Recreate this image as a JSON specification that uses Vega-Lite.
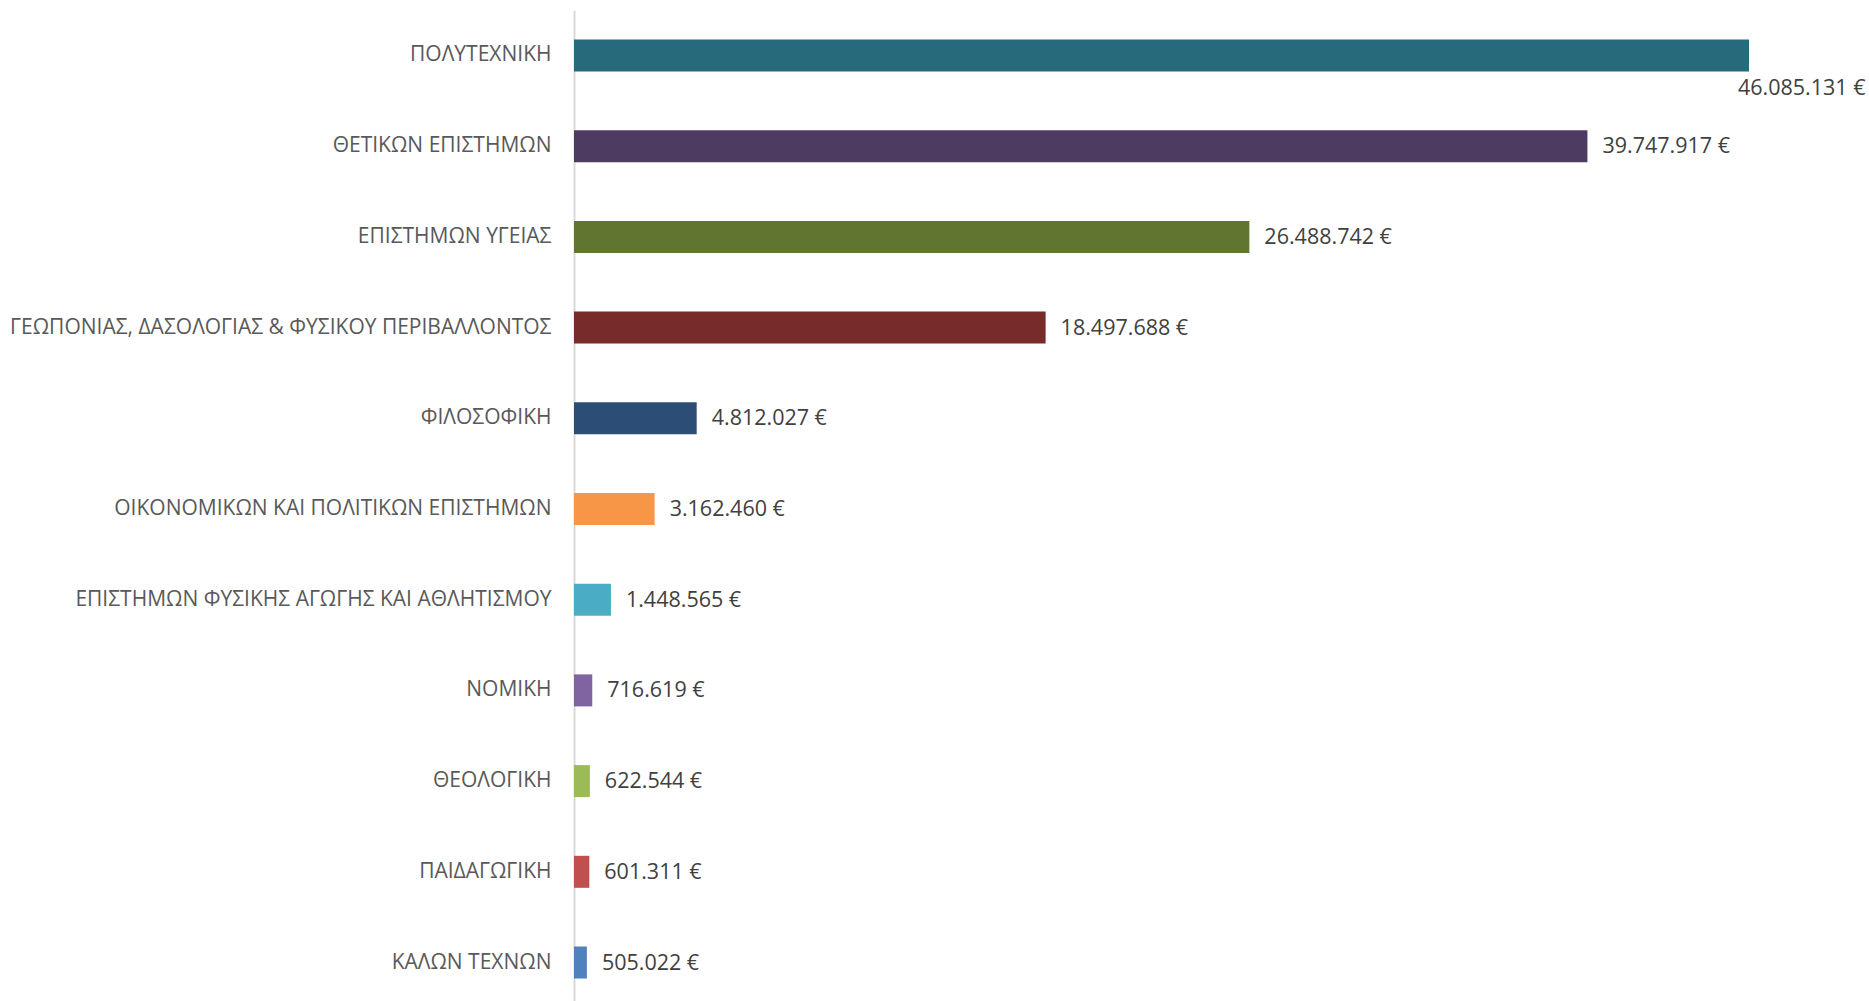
{
  "$schema": "https://vega.github.io/schema/vega-lite/v6.json",
  "autosize": {"type": "none"},
  "padding": {"left": 574, "top": 10, "right": 0, "bottom": 0},
  "width": 1295,
  "height": 998,
  "background": "white",
  "config": {"view": {"stroke": null}},
  "data": {"values": [
    {"school": "ΠΟΛΥΤΕΧΝΙΚΗ", "amount": 46085131, "label": "46.085.131 €"},
    {"school": "ΘΕΤΙΚΩΝ ΕΠΙΣΤΗΜΩΝ", "amount": 39747917, "label": "39.747.917 €"},
    {"school": "ΕΠΙΣΤΗΜΩΝ ΥΓΕΙΑΣ", "amount": 26488742, "label": "26.488.742 €"},
    {"school": "ΓΕΩΠΟΝΙΑΣ, ΔΑΣΟΛΟΓΙΑΣ & ΦΥΣΙΚΟΥ ΠΕΡΙΒΑΛΛΟΝΤΟΣ", "amount": 18497688, "label": "18.497.688 €"},
    {"school": "ΦΙΛΟΣΟΦΙΚΗ", "amount": 4812027, "label": "4.812.027 €"},
    {"school": "ΟΙΚΟΝΟΜΙΚΩΝ ΚΑΙ ΠΟΛΙΤΙΚΩΝ ΕΠΙΣΤΗΜΩΝ", "amount": 3162460, "label": "3.162.460 €"},
    {"school": "ΕΠΙΣΤΗΜΩΝ ΦΥΣΙΚΗΣ ΑΓΩΓΗΣ ΚΑΙ ΑΘΛΗΤΙΣΜΟΥ", "amount": 1448565, "label": "1.448.565 €"},
    {"school": "ΝΟΜΙΚΗ", "amount": 716619, "label": "716.619 €"},
    {"school": "ΘΕΟΛΟΓΙΚΗ", "amount": 622544, "label": "622.544 €"},
    {"school": "ΠΑΙΔΑΓΩΓΙΚΗ", "amount": 601311, "label": "601.311 €"},
    {"school": "ΚΑΛΩΝ ΤΕΧΝΩΝ", "amount": 505022, "label": "505.022 €"}
  ]},
  "encoding": {
    "y": {
      "field": "school", "type": "nominal", "sort": null,
      "scale": {"paddingInner": 0.647, "paddingOuter": 0.325},
      "axis": {
        "title": null, "ticks": false, "labelPadding": 23, "labelLimit": 700,
        "labelFont": "Open Sans", "labelFontSize": 21, "labelColor": "#595959",
        "domainColor": "#D9D9D9", "domainWidth": 2, "grid": false
      }
    },
    "x": {
      "field": "amount", "type": "quantitative",
      "scale": {"domain": [0, 50791740], "nice": false, "zero": true},
      "axis": null
    }
  },
  "layer": [
    {
      "mark": {"type": "bar"},
      "encoding": {
        "color": {
          "field": "school", "type": "nominal", "legend": null, "sort": null,
          "scale": {
            "domain": ["ΠΟΛΥΤΕΧΝΙΚΗ", "ΘΕΤΙΚΩΝ ΕΠΙΣΤΗΜΩΝ", "ΕΠΙΣΤΗΜΩΝ ΥΓΕΙΑΣ", "ΓΕΩΠΟΝΙΑΣ, ΔΑΣΟΛΟΓΙΑΣ & ΦΥΣΙΚΟΥ ΠΕΡΙΒΑΛΛΟΝΤΟΣ", "ΦΙΛΟΣΟΦΙΚΗ", "ΟΙΚΟΝΟΜΙΚΩΝ ΚΑΙ ΠΟΛΙΤΙΚΩΝ ΕΠΙΣΤΗΜΩΝ", "ΕΠΙΣΤΗΜΩΝ ΦΥΣΙΚΗΣ ΑΓΩΓΗΣ ΚΑΙ ΑΘΛΗΤΙΣΜΟΥ", "ΝΟΜΙΚΗ", "ΘΕΟΛΟΓΙΚΗ", "ΠΑΙΔΑΓΩΓΙΚΗ", "ΚΑΛΩΝ ΤΕΧΝΩΝ"],
            "range": ["#276A7C", "#4D3B62", "#5F7530", "#772C2A", "#2C4D75", "#F79646", "#4BACC6", "#8064A2", "#9BBB59", "#C0504D", "#4F81BD"]
          }
        }
      }
    },
    {
      "transform": [{"filter": "datum.amount < 45000000"}],
      "mark": {"type": "text", "align": "left", "baseline": "middle", "dx": 15, "dy": 1, "font": "Open Sans", "fontSize": 21.5, "color": "#404040"},
      "encoding": {"text": {"field": "label"}}
    },
    {
      "transform": [{"filter": "datum.amount >= 45000000"}],
      "mark": {"type": "text", "align": "left", "baseline": "middle", "dx": -11, "dy": 34, "font": "Open Sans", "fontSize": 21.5, "color": "#404040"},
      "encoding": {"text": {"field": "label"}}
    }
  ]
}
